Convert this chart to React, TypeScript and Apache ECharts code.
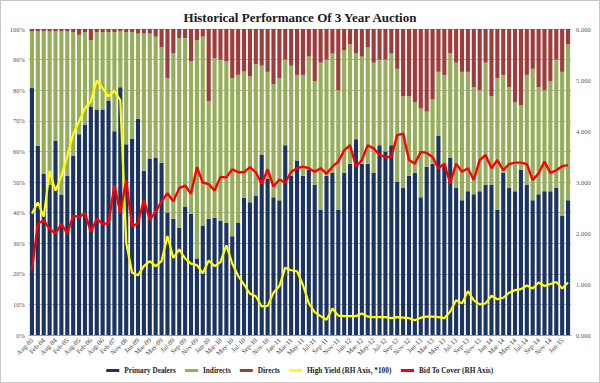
import React, { useEffect, useRef } from "react";
import * as echarts from "echarts";

const categories: string[] = [
  "Aug-03", "Nov-03", "Feb-04", "May-04", "Aug-04", "Nov-04", "Feb-05", "May-05",
  "Aug-05", "Nov-05", "Feb-06", "May-06", "Aug-06", "Nov-06", "Feb-07", "May-07",
  "Nov-08", "Dec-08",
  "Jan-09", "Feb-09", "Mar-09", "Apr-09", "May-09", "Jun-09", "Jul-09", "Aug-09", "Sep-09", "Oct-09", "Nov-09", "Dec-09",
  "Jan-10", "Feb-10", "Mar-10", "Apr-10", "May-10", "Jun-10", "Jul-10", "Aug-10", "Sep-10", "Oct-10", "Nov-10", "Dec-10",
  "Jan-11", "Feb-11", "Mar-11", "Apr-11", "May-11", "Jun-11", "Jul-11", "Aug-11", "Sep-11", "Oct-11", "Nov-11", "Dec-11",
  "Jan-12", "Feb-12", "Mar-12", "Apr-12", "May-12", "Jun-12", "Jul-12", "Aug-12", "Sep-12", "Oct-12", "Nov-12", "Dec-12",
  "Jan-13", "Feb-13", "Mar-13", "Apr-13", "May-13", "Jun-13", "Jul-13", "Aug-13", "Sep-13", "Oct-13", "Nov-13", "Dec-13",
  "Jan-14", "Feb-14", "Mar-14", "Apr-14", "May-14", "Jun-14", "Jul-14", "Aug-14", "Sep-14", "Oct-14", "Nov-14", "Dec-14",
  "Jan-15", "Feb-15",
];

const primaryDealers: number[] = [
  80.7, 61.8, 52.6, 49, 63.4, 45.9, 52, 58.5, 65.6, 68.8, 74.5, 73.7, 73.7, 76.6, 66.6, 81,
  62.3, 64.2,
  70.7, 53.7, 57.7, 58, 56.3, 40, 38, 35, 42, 39.6, 25, 35.8,
  38, 38.3, 37.4, 36.6, 32.3, 36.6, 44.8, 43.4, 45.6, 59, 51, 45,
  44, 62, 52, 57, 52, 54, 49, 41, 52, 53, 41, 53,
  56, 64, 56, 56, 53, 62, 60, 62, 50, 48, 52, 53,
  45, 55, 56, 65, 56, 58, 48, 44, 47, 46, 47, 49,
  49, 41, 53, 48, 47, 54, 49, 44, 46, 47, 47, 48,
  39, 44,
];

const directs: number[] = [
  0.8, 0.8, 0.8, 0.8, 0.8, 0.8, 0.8, 1, 1.9, 1, 3.6, 1, 1, 1, 1, 0.8,
  1, 1,
  1.5, 1.5, 1.5, 2.5, 6, 16, 8, 3, 3, 10.6, 3.6, 2.5,
  23.6, 9.5, 10, 10.6, 16, 15, 13.9, 15.5, 11.5, 12, 14, 18,
  16, 10, 12, 15, 15, 9, 17, 11, 10, 8, 20, 7,
  5, 8, 9, 6, 11, 10, 10, 8, 13, 22, 22, 24,
  26, 27, 23, 14, 15, 8, 11, 14, 14, 19, 20, 11,
  22, 16, 15, 19, 24, 25, 15, 13, 19, 20, 17, 10,
  14, 5,
];

const indirects: number[] = primaryDealers.map((p, i) => +(100 - p - directs[i]).toFixed(1));

const highYield: number[] = [
  2.38, 2.6, 2.32, 3.22, 2.83, 3.12, 3.51, 3.94, 4.19, 4.45, 4.58, 4.99, 4.84, 4.68, 4.79, 4.6,
  1.81, 1.22,
  1.17, 1.35, 1.45, 1.35, 1.45, 1.94, 1.51, 1.68, 1.5, 1.4, 1.37, 1.21,
  1.46, 1.35, 1.43, 1.76, 1.4, 1.16, 0.99, 0.81, 0.76, 0.56, 0.57, 0.83,
  0.96, 1.32, 1.27, 1.25, 0.98, 0.62, 0.45, 0.37, 0.3, 0.52, 0.38, 0.37,
  0.37, 0.37, 0.42, 0.36, 0.35, 0.35, 0.35, 0.33, 0.35, 0.34, 0.33, 0.29,
  0.34, 0.36, 0.36, 0.35, 0.33, 0.46, 0.68, 0.62, 0.86, 0.68, 0.6, 0.62,
  0.77, 0.7, 0.73, 0.83, 0.88, 0.9, 0.97, 0.91, 1.03, 0.96, 1.0, 1.04,
  0.91, 1.03,
];

const bidToCover: number[] = [
  1.27, 2.18, 2.25, 2.08, 1.99, 2.18, 1.99, 2.34, 2.31, 2.39, 2.02, 2.28, 2.18, 2.19, 2.94, 2.39,
  3.04, 2.13,
  2.19, 2.65, 2.26, 2.42, 2.62, 2.78, 2.62, 2.88, 2.93, 2.77, 3.29, 2.99,
  2.96, 2.83, 3.1, 3.09, 3.25, 3.19, 3.19, 3.29, 3.19, 2.96, 3.25, 2.91,
  3.05, 2.99, 3.2, 3.27, 3.3, 3.27, 3.2, 3.27, 3.16, 3.3, 3.4, 3.62,
  3.72, 3.3, 3.43, 3.72, 3.66, 3.53, 3.49, 3.49, 3.92, 3.95, 3.43, 3.36,
  3.59, 3.57, 3.49, 3.27, 3.36, 2.97, 3.36, 3.2, 3.27, 3.04, 3.43, 3.53,
  3.27, 3.43, 3.23, 3.35, 3.38, 3.38, 3.35, 3.04, 3.17, 3.4, 3.18, 3.23,
  3.31, 3.33,
];

const pctTicks: number[] = [0, 10, 20, 30, 40, 50, 60, 70, 80, 90, 100];

const FONT = "Liberation Serif";

export default function App() {
  const ref = useRef<HTMLDivElement>(null);
  useEffect(() => {
    document.body.style.margin = "0";
    if (!ref.current) return;
    const chart = echarts.init(ref.current, undefined, { renderer: "svg" });
    const barCommon = {
      type: "bar" as const,
      stack: "share",
      yAxisIndex: 0,
      barCategoryGap: "30%",
    };
    chart.setOption({
      animation: false,
      backgroundColor: "#ffffff",
      textStyle: { fontFamily: FONT },
      title: {
        text: "Historical Performance Of 3 Year Auction",
        left: "center",
        top: 5,
        textStyle: { fontFamily: FONT, fontSize: 13, fontWeight: "bold", color: "#1a1a1a" },
      },
      legend: {
        bottom: 3,
        left: "center",
        icon: "rect",
        itemWidth: 13,
        itemHeight: 3,
        itemGap: 9,
        textStyle: { fontFamily: FONT, fontSize: 7.3, fontWeight: "bold", color: "#222" },
        data: ["Primary Dealers", "Indirects", "Directs", "High Yield (RH Axis, *100)", "Bid To Cover (RH Axis)"],
      },
      grid: { left: 28, right: 28, top: 28, bottom: 47, containLabel: false },
      xAxis: {
        type: "category",
        data: categories,
        boundaryGap: true,
        axisTick: { show: false },
        axisLine: { show: true, lineStyle: { color: "#999" } },
        axisLabel: {
          interval: 1,
          rotate: 45,
          fontSize: 6.8,
          color: "#444",
          fontFamily: FONT,
          margin: 4,
        },
      },
      yAxis: [
        {
          type: "value",
          min: 0,
          max: 100,
          interval: 10,
          position: "left",
          axisLine: { show: false },
          axisTick: { show: false },
          splitLine: { show: true, lineStyle: { color: "#8a8a8a", width: 0.6 } },
          axisLabel: {
            formatter: (v: number) => (pctTicks.includes(v) ? `${v}%` : ""),
            fontSize: 6.5,
            color: "#555",
            fontFamily: FONT,
            margin: 4,
          },
        },
        {
          type: "value",
          min: 0,
          max: 6,
          interval: 1,
          position: "right",
          axisLine: { show: false },
          axisTick: { show: false },
          splitLine: { show: false },
          axisLabel: {
            formatter: (v: number) => v.toFixed(3),
            fontSize: 6.5,
            color: "#555",
            fontFamily: FONT,
            margin: 5,
          },
        },
      ],
      series: [
        { ...barCommon, name: "Primary Dealers", data: primaryDealers, itemStyle: { color: "#1c3461" } },
        { ...barCommon, name: "Indirects", data: indirects, itemStyle: { color: "#96ad5c" } },
        { ...barCommon, name: "Directs", data: directs, itemStyle: { color: "#9e3b3b" } },
        {
          type: "line",
          name: "High Yield (RH Axis, *100)",
          yAxisIndex: 1,
          data: highYield,
          symbol: "none",
          lineStyle: { color: "#ffff00", width: 2.2 },
          itemStyle: { color: "#ffff00" },
          z: 5,
        },
        {
          type: "line",
          name: "Bid To Cover (RH Axis)",
          yAxisIndex: 1,
          data: bidToCover,
          symbol: "none",
          lineStyle: { color: "#ff0000", width: 2.4 },
          itemStyle: { color: "#ff0000" },
          z: 6,
        },
      ],
    });
    return () => chart.dispose();
  }, []);
  return (
    <div
      style={{
        width: 600,
        height: 383,
        boxSizing: "border-box",
        border: "1px solid #c8c8c8",
        background: "#fff",
      }}
    >
      <div ref={ref} style={{ width: 598, height: 381 }} />
    </div>
  );
}
